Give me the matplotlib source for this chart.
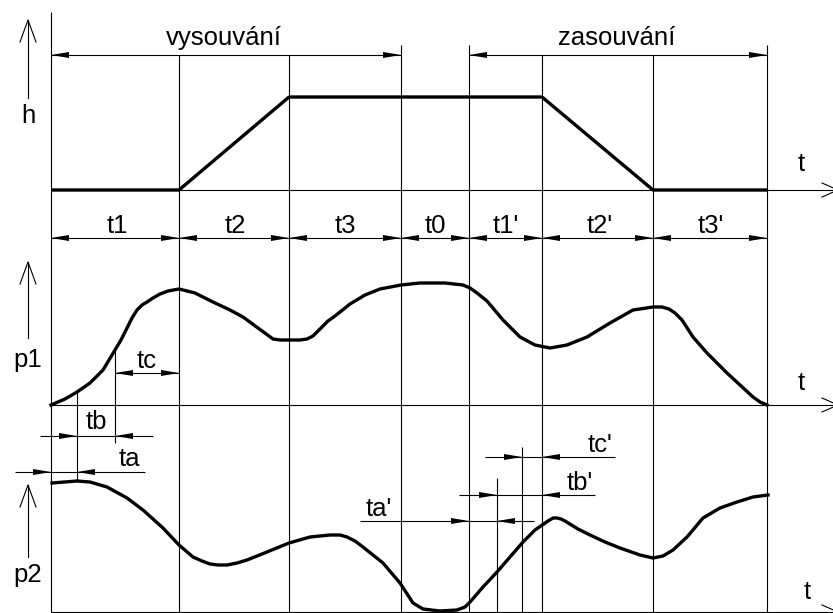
import matplotlib
matplotlib.use("Agg")
import matplotlib.pyplot as plt

# --- data (drawing units = pixels of the 833x613 sheet, y grows downwards) ---
W, H = 833, 613

# phase boundaries on the time axis
bounds = [51, 179, 289, 401, 469, 542, 653, 767]
phase_labels = ['t1', 't2', 't3', 't0', "t1'", "t2'", "t3'"]

# baselines of the three plots
y_h, y_p1, y_p2 = 190, 405, 612

# stroke h(t)
h_t = [51, 179, 289, 542, 653, 767]
h_v = [190, 190, 97, 97, 190, 190]

# pressure p1(t)
p1_t = [51, 65, 77, 90, 103, 115, 121, 127, 132, 137, 142, 147, 153, 160, 168,
        179, 195, 213, 230, 243, 258, 273, 280, 290, 300, 307, 313, 320, 328,
        335, 350, 365, 380, 401, 420, 445, 463, 470, 477, 487, 503, 520, 535,
        550, 567, 587, 610, 633, 653, 662, 669, 675, 682, 693, 707, 727, 740,
        753, 760, 767]
p1_v = [405, 399, 392, 383, 370, 350, 340, 328, 318, 310, 305, 302, 298, 294, 291,
        289, 293, 302, 310, 317, 328, 339, 340, 340, 340, 339, 336, 329, 321,
        316, 304, 295, 289, 285, 283, 283, 285, 288, 293, 301, 320, 337, 345,
        348, 345, 337, 323, 310, 307, 307, 309, 313, 320, 337, 353, 373, 385,
        397, 402, 405]

# pressure p2(t)
p2_t = [52, 77, 90, 107, 127, 143, 163, 179, 193, 202, 210, 218, 227, 237, 247,
        267, 289, 310, 330, 340, 347, 355, 363, 383, 400, 413, 423, 440, 457,
        465, 470, 483, 497, 510, 523, 535, 548, 553, 557, 561, 565, 578, 590,
        605, 620, 640, 653, 663, 673, 687, 703, 720, 737, 753, 768]
p2_v = [483, 481, 482, 487, 498, 510, 528, 545, 557, 561, 564, 565, 565, 563, 560,
        552, 543, 537, 535, 535, 537, 541, 547, 563, 583, 603, 609, 611, 610,
        607, 602, 587, 572, 557, 542, 530, 521, 518, 518, 519, 521, 529, 535,
        542, 548, 555, 558, 556, 550, 537, 518, 508, 502, 497, 495]

# detail time marks
tb_x, tc_x = 77, 115
tb2_x, tc2_x = 497, 522

thin = 0.8
thick = 2.4
font = dict(family=['Liberation Sans', 'DejaVu Sans'], fontsize=18.5)

fig = plt.figure(figsize=(W / 100, H / 100), dpi=100)
ax = fig.add_axes([0, 0, 1, 1])
ax.set_xlim(0, W)
ax.set_ylim(H, 0)
ax.axis('off')


def vline(x, y0, y1):
    ax.plot([x, x], [y0, y1], color='black', lw=thin, solid_capstyle='butt')


def hline(y, x0, x1):
    ax.plot([x0, x1], [y, y], color='black', lw=thin, solid_capstyle='butt')


def head(x, y, direction, length=18, half=3):
    # filled arrow head with tip at (x, y), direction +1 -> points right
    ax.fill([x, x - direction * length, x - direction * length],
            [y, y - half, y + half], color='black', lw=0)


def dim_inside(x0, x1, y):
    hline(y, x0, x1)
    head(x0, y, -1)
    head(x1, y, 1)


def dim_outside(x0, x1, y, left, right):
    hline(y, left, right)
    head(x0, y, 1)
    head(x1, y, -1)


# vertical grid / extension lines
vline(51, 12, H)
for x in [179, 289, 542, 653]:
    vline(x, 55, H)
for x in [401, 469, 767]:
    vline(x, 45, H)
vline(tc_x, 350, 443)
vline(tb_x, 392, 481)
vline(tb2_x, 478, H)
vline(tc2_x, 447, H)

# time axes with open arrows
for y in [y_h, y_p1, y_p2]:
    hline(y, 51, W)
    ax.plot([822, 838, 822], [y - 7, y, y + 7], color='black', lw=thin)
for x, y in [(801, 164), (801, 383), (807, 592)]:
    ax.text(x, y, 't', ha='center', va='center', **font)

# vertical axis arrows
for top, bottom, lab, ly in [(20, 98, 'h', 116), (262, 338, 'p1', 360), (485, 557, 'p2', 575)]:
    ax.plot([28, 28], [top, bottom], color='black', lw=thin)
    ax.plot([20, 28, 36], [top + 22, top, top + 22], color='black', lw=thin)
    ax.text(28, ly, lab, ha='center', va='center', **font)

# curves
ax.plot(h_t, h_v, color='black', lw=thick, solid_capstyle='butt')
ax.plot(p1_t, p1_v, color='black', lw=thick, solid_joinstyle='round')
ax.plot(p2_t, p2_v, color='black', lw=thick, solid_joinstyle='round')

# phase dimensions
dim_inside(bounds[0], bounds[3], 55)
ax.text(224, 38, 'vysouvání', ha='center', va='center', **font)
dim_inside(bounds[4], bounds[7], 55)
ax.text(617, 38, 'zasouvání', ha='center', va='center', **font)

phase_x = [117, 235, 345, 435, 506, 600, 711]
for i, lab in enumerate(phase_labels):
    dim_inside(bounds[i], bounds[i + 1], 238)
    ax.text(phase_x[i], 226, lab, ha='center', va='center', **font)

# detail dimensions
dim_inside(tc_x, 179, 373)
ax.text(147, 361, 'tc', ha='center', va='center', **font)
dim_outside(tb_x, tc_x, 436, 40, 153)
ax.text(96, 422, 'tb', ha='center', va='center', **font)
dim_outside(51, tb_x, 472, 15, 145)
ax.text(129, 459, 'ta', ha='center', va='center', **font)

dim_outside(469, tb2_x, 521, 360, 534)
ax.text(379, 509, "ta'", ha='center', va='center', **font)
dim_outside(tb2_x, 542, 495, 459, 595)
ax.text(580, 483, "tb'", ha='center', va='center', **font)
dim_outside(tc2_x, 542, 457, 485, 615)
ax.text(600, 445, "tc'", ha='center', va='center', **font)

fig.savefig('out.png', dpi=100)
